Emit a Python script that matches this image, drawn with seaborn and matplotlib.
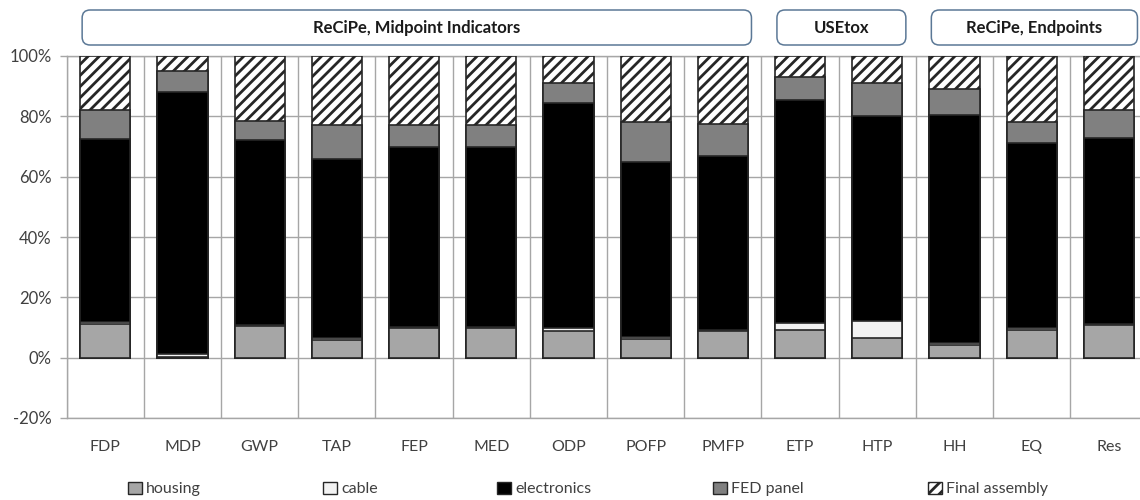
import numpy as np
import pandas as pd
import matplotlib
matplotlib.use("Agg")
import matplotlib.pyplot as plt
import seaborn as sns
from matplotlib.patches import Patch, FancyBboxPatch
from matplotlib.ticker import FuncFormatter, FixedLocator

# Impact categories (x axis)
categories = ["FDP", "MDP", "GWP", "TAP", "FEP", "MED", "ODP", "POFP", "PMFP",
              "ETP", "HTP", "HH", "EQ", "Res"]

# Share of each life-cycle component in every impact category (%)
housing     = [11.0, 0.3, 10.5, 5.8, 9.8, 9.8, 9.0, 6.3, 8.7, 9.3, 6.6, 4.3, 9.3, 10.7]
cable       = [0.7, 1.0, 0.2, 0.6, 0.5, 0.4, 1.0, 0.7, 0.5, 2.1, 5.4, 0.7, 0.7, 0.6]
electronics = [60.8, 86.7, 61.3, 59.6, 59.7, 59.8, 74.5, 58.0, 57.8, 74.0, 68.0, 75.5, 61.0, 61.5]
fed_panel   = [9.5, 7.0, 6.5, 11.0, 7.0, 7.0, 6.5, 13.0, 10.5, 7.6, 11.0, 8.5, 7.0, 9.2]
final_assembly = [18.0, 5.0, 21.5, 23.0, 23.0, 23.0, 9.0, 22.0, 22.5, 7.0, 9.0, 11.0, 22.0, 18.0]

components = ["housing", "cable", "electronics", "FED panel", "Final assembly"]

# Method groups shown as labelled boxes above the bars
group_names = ["ReCiPe, Midpoint Indicators", "USEtox", "ReCiPe, Endpoints"]
group_first = ["FDP", "ETP", "HH"]
group_last = ["PMFP", "HTP", "Res"]

sns.set_theme(style="white")
plt.rcParams["font.family"] = ["Lato", "DejaVu Sans"]
plt.rcParams["hatch.linewidth"] = 2.0

face = {"housing": "#a6a6a6", "cable": "#f2f2f2", "electronics": "#000000",
        "FED panel": "#808080", "Final assembly": "#ffffff"}
hatch = {"Final assembly": "///"}
edge = "#262626"
grid_c = "#a6a6a6"
text_c = "#404040"

df = pd.DataFrame({"category": categories, "housing": housing, "cable": cable,
                   "electronics": electronics, "FED panel": fed_panel,
                   "Final assembly": final_assembly})
cum = df[components].cumsum(axis=1)

fig = plt.figure(figsize=(11.4, 5.0), dpi=100)
ax = fig.add_axes([66.7 / 1140, 82 / 500, 14 * 77.2 / 1140, 362 / 500])

# Stacked bars: draw cumulative totals from the top component down
for comp in reversed(components):
    sns.barplot(x=df["category"], y=cum[comp], order=categories, ax=ax,
                color=face[comp], width=0.65, saturation=1,
                edgecolor=edge, linewidth=1.2,
                hatch=hatch.get(comp, None), zorder=3)

ax.set_xlim(-0.5, len(categories) - 0.5)
ax.set_ylim(-20, 100)
ax.set_yticks(np.arange(-20, 101, 20))
ax.yaxis.set_major_formatter(FuncFormatter(lambda v, p: f"{v:.0f}%"))
ax.xaxis.set_minor_locator(FixedLocator(np.arange(-0.5, len(categories), 1.0)))
ax.grid(axis="y", which="major", color=grid_c, linewidth=1, zorder=0)
ax.grid(axis="x", which="minor", color=grid_c, linewidth=1, zorder=0)
ax.grid(axis="x", which="major", visible=False)
ax.set_axisbelow(True)
for s in ax.spines.values():
    s.set_color(grid_c)
    s.set_linewidth(1)
ax.spines["right"].set_visible(False)
ax.set_xlabel("")
ax.set_ylabel("")
ax.tick_params(axis="y", which="major", length=5, width=1, color=grid_c,
               pad=6, labelsize=12, labelcolor=text_c, left=True)
ax.tick_params(axis="x", which="both", length=0, pad=16, labelsize=11.5,
               labelcolor=text_c)

# Group boxes over the category ranges
fig_h = fig.get_size_inches()[1]
for name, first, last in zip(group_names, group_first, group_last):
    i0 = categories.index(first)
    i1 = categories.index(last)
    x0 = ax.transData.transform((i0 - 0.5 + 0.2, 0))[0] / fig.dpi
    x1 = ax.transData.transform((i1 + 0.5 - 0.13, 0))[0] / fig.dpi
    y0 = fig_h - 0.45
    y1 = fig_h - 0.10
    box = FancyBboxPatch((x0, y0), x1 - x0, y1 - y0,
                         boxstyle="round,pad=0,rounding_size=0.08",
                         transform=fig.dpi_scale_trans, facecolor="white",
                         edgecolor="#5b7896", linewidth=1.1)
    fig.patches.append(box)
    fig.text((x0 + x1) / 2, (y0 + y1) / 2, name, transform=fig.dpi_scale_trans,
             ha="center", va="center", fontsize=12, fontweight="bold",
             color="#1a1a1a")

# Legend entries spread along the bottom edge
legend_x = [128, 323, 497, 713, 928]
for comp, lx in zip(components, legend_x):
    h = Patch(facecolor=face[comp], edgecolor=edge, linewidth=1.0,
              hatch=hatch.get(comp, None), label=comp)
    fig.legend(handles=[h], labels=[comp], loc="center left",
               bbox_to_anchor=(lx / 1140, 0.022), frameon=False,
               fontsize=11.5, handlelength=0.85, handleheight=0.85,
               handletextpad=0.3, borderpad=0, borderaxespad=0,
               labelcolor=text_c)

fig.savefig("out.png", dpi=100)
